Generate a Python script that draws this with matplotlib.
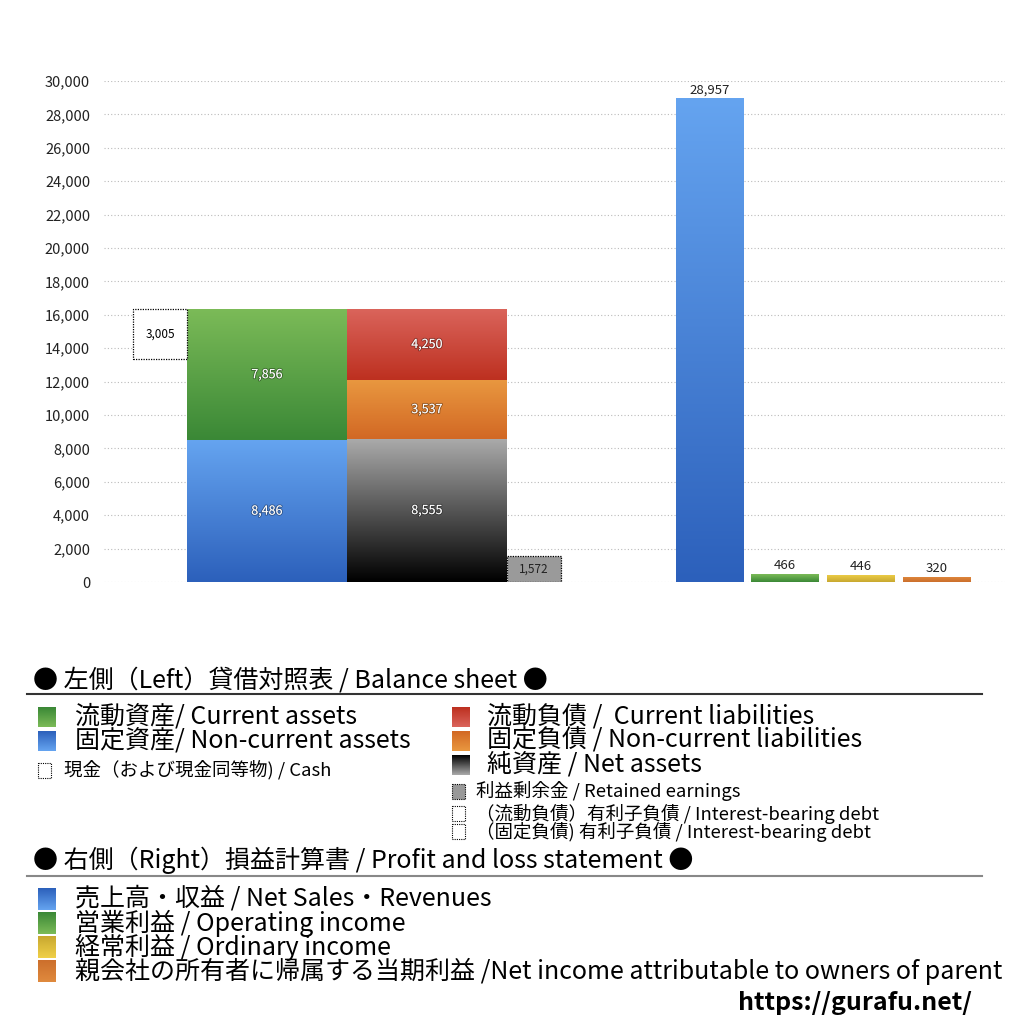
import numpy as np
import matplotlib.pyplot as plt
from matplotlib.patches import Rectangle
from matplotlib.colors import LinearSegmentedColormap
import matplotlib.ticker as ticker
import matplotlib.patheffects as pe

plt.rcParams['font.family'] = ['Noto Sans CJK JP', 'DejaVu Sans']

# balance sheet (left) values
assets_labels = ['固定資産', '流動資産']
assets_values = [8486, 7856]
liab_labels = ['純資産', '固定負債', '流動負債']
liab_values = [8555, 3537, 4250]
cash_value = 3005
retained_value = 1572

# profit and loss (right) values
pl_labels = ['売上高', '営業利益', '経常利益', '当期利益']
pl_values = [28957, 466, 446, 320]

yticks = np.arange(0, 30001, 2000)

# gradient colours (top, bottom)
C_GREEN = ('#7cbb58', '#3a8836')
C_BLUE = ('#65a4f0', '#2c60bb')
C_RED = ('#da645b', '#bd3020')
C_ORANGE = ('#e99840', '#d26824')
C_GRAY = ('#aaaaaa', '#000000')
C_YELLOW = ('#f0d048', '#c8a830')
C_NET = ('#e08a3e', '#cc6f2c')


def grad_bar(ax, x, bottom, height, width, cols, z=2):
    cmap = LinearSegmentedColormap.from_list('g', [cols[1], cols[0]])
    rect = ax.bar(x, height, width=width, bottom=bottom, color='none', linewidth=0, zorder=z)[0]
    grad = np.linspace(0, 1, 256).reshape(-1, 1)
    im = ax.imshow(grad, cmap=cmap, origin='lower', aspect='auto',
                   extent=(x - width / 2, x + width / 2, bottom, bottom + height), zorder=z)
    im.set_clip_path(rect)
    return rect


fig = plt.figure(figsize=(10.24, 10.24), dpi=100)
ax = fig.add_axes([104 / 1024, 1 - 582 / 1024, 901 / 1024, 501 / 1024])
ax.set_xlim(104, 1005)
ax.set_ylim(0, 30000)

shadow = [pe.withStroke(linewidth=1.4, foreground='#00000050')]

# left: balance sheet
bs_x = [267, 427]
bs_w = 160
b = 0
for v, c in zip(assets_values, [C_BLUE, C_GREEN]):
    grad_bar(ax, bs_x[0], b, v, bs_w, c)
    ax.text(bs_x[0], b + v / 2, f'{v:,}', color='white', fontsize=9, ha='center', va='center', zorder=5,
            path_effects=shadow)
    b += v
b = 0
for v, c in zip(liab_values, [C_GRAY, C_ORANGE, C_RED]):
    grad_bar(ax, bs_x[1], b, v, bs_w, c)
    ax.text(bs_x[1], b + v / 2, f'{v:,}', color='white', fontsize=9, ha='center', va='center', zorder=5,
            path_effects=shadow)
    b += v

# cash box (dotted) next to current assets
top_assets = sum(assets_values)
ax.bar(160, cash_value, width=54, bottom=top_assets - cash_value, color='white',
       edgecolor='black', linestyle=(0, (1, 1)), linewidth=0.9, zorder=3)
ax.text(160, top_assets - cash_value / 2, f'{cash_value:,}', fontsize=8.5, ha='center', va='center', zorder=5)

# retained earnings box
ax.bar(534, retained_value, width=54, color='#9a9a9a', edgecolor='black',
       linestyle=(0, (1, 1)), linewidth=0.9, zorder=3)
ax.text(534, retained_value / 2, f'{retained_value:,}', fontsize=8.5, ha='center', va='center',
        color='#222222', zorder=5)

# right: profit and loss
pl_x = [710, 785, 861, 937]
pl_cols = [C_BLUE, C_GREEN, C_YELLOW, C_NET]
for x, v, c in zip(pl_x, pl_values, pl_cols):
    grad_bar(ax, x, 0, v, 68, c)
    ax.text(x, v + 120, f'{v:,}', fontsize=9.5, ha='center', va='bottom', color='#222222', zorder=5)

ax.set_yticks(yticks)
ax.yaxis.set_major_formatter(ticker.FuncFormatter(lambda v, p: f'{int(v):,}'))
ax.tick_params(axis='y', length=0, labelsize=10.5, pad=10, labelcolor='#222222')
ax.set_xticks([])
ax.grid(axis='y', linestyle=(0, (1, 2)), color='#bbbbbb', linewidth=0.8, zorder=0)
for s in ax.spines.values():
    s.set_visible(False)

# legend area drawn in pixel coordinates
lg = fig.add_axes([0, 0, 1, 1], zorder=-1)
lg.set_xlim(0, 1024)
lg.set_ylim(1024, 0)
lg.axis('off')


def swatch(x, y, cols, w=18, h=20):
    cmap = LinearSegmentedColormap.from_list('s', [cols[0], cols[1]])
    grad = np.linspace(0, 1, 64).reshape(-1, 1)
    lg.imshow(grad, cmap=cmap, aspect='auto', extent=(x, x + w, y + h / 2, y - h / 2), origin='lower')


def dotted_box(x, y, w=13, h=15, fc='white'):
    lg.add_patch(Rectangle((x, y - h / 2), w, h, facecolor=fc, edgecolor='black',
                           linestyle=(0, (1, 1)), linewidth=0.8))


big = 18
small = 13.3
lg.text(33, 680, '● 左側（Left）貸借対照表 / Balance sheet ●', fontsize=big, va='center')
lg.plot([27, 982], [694, 694], color='#333333', lw=1.5)

swatch(38, 717, C_GREEN)
lg.text(75, 717, '流動資産/ Current assets', fontsize=big, va='center')
swatch(38, 741, C_BLUE)
lg.text(75, 741, '固定資産/ Non-current assets', fontsize=big, va='center')
dotted_box(38, 770)
lg.text(64, 770, '現金（および現金同等物) / Cash', fontsize=small, va='center')

swatch(452, 717, C_RED)
lg.text(487, 717, '流動負債 /  Current liabilities', fontsize=big, va='center')
swatch(452, 741, C_ORANGE)
lg.text(487, 741, '固定負債 / Non-current liabilities', fontsize=big, va='center')
swatch(452, 765, C_GRAY)
lg.text(487, 765, '純資産 / Net assets', fontsize=big, va='center')
dotted_box(452, 791, fc='#999999')
lg.text(476, 791, '利益剰余金 / Retained earnings', fontsize=small, va='center')
dotted_box(452, 813)
lg.text(476, 814, '（流動負債）有利子負債 / Interest-bearing debt', fontsize=small, va='center')
dotted_box(452, 831)
lg.text(476, 832, '（固定負債) 有利子負債 / Interest-bearing debt', fontsize=small, va='center')

lg.text(33, 860, '● 右側（Right）損益計算書 / Profit and loss statement ●', fontsize=big, va='center')
lg.plot([27, 982], [876, 876], color='#888888', lw=1.5)

pl_legend = ['売上高・収益 / Net Sales・Revenues',
             '営業利益 / Operating income',
             '経常利益 / Ordinary income',
             '親会社の所有者に帰属する当期利益 /Net income attributable to owners of parent']
for i, (t, c) in enumerate(zip(pl_legend, pl_cols)):
    y = 899 + i * 24
    swatch(38, y, c, h=22)
    lg.text(75, y, t, fontsize=big, va='center')

lg.text(972, 1003, 'https://gurafu.net/', fontsize=18, fontweight='bold', ha='right', va='center')

fig.savefig('out.png', dpi=100)
